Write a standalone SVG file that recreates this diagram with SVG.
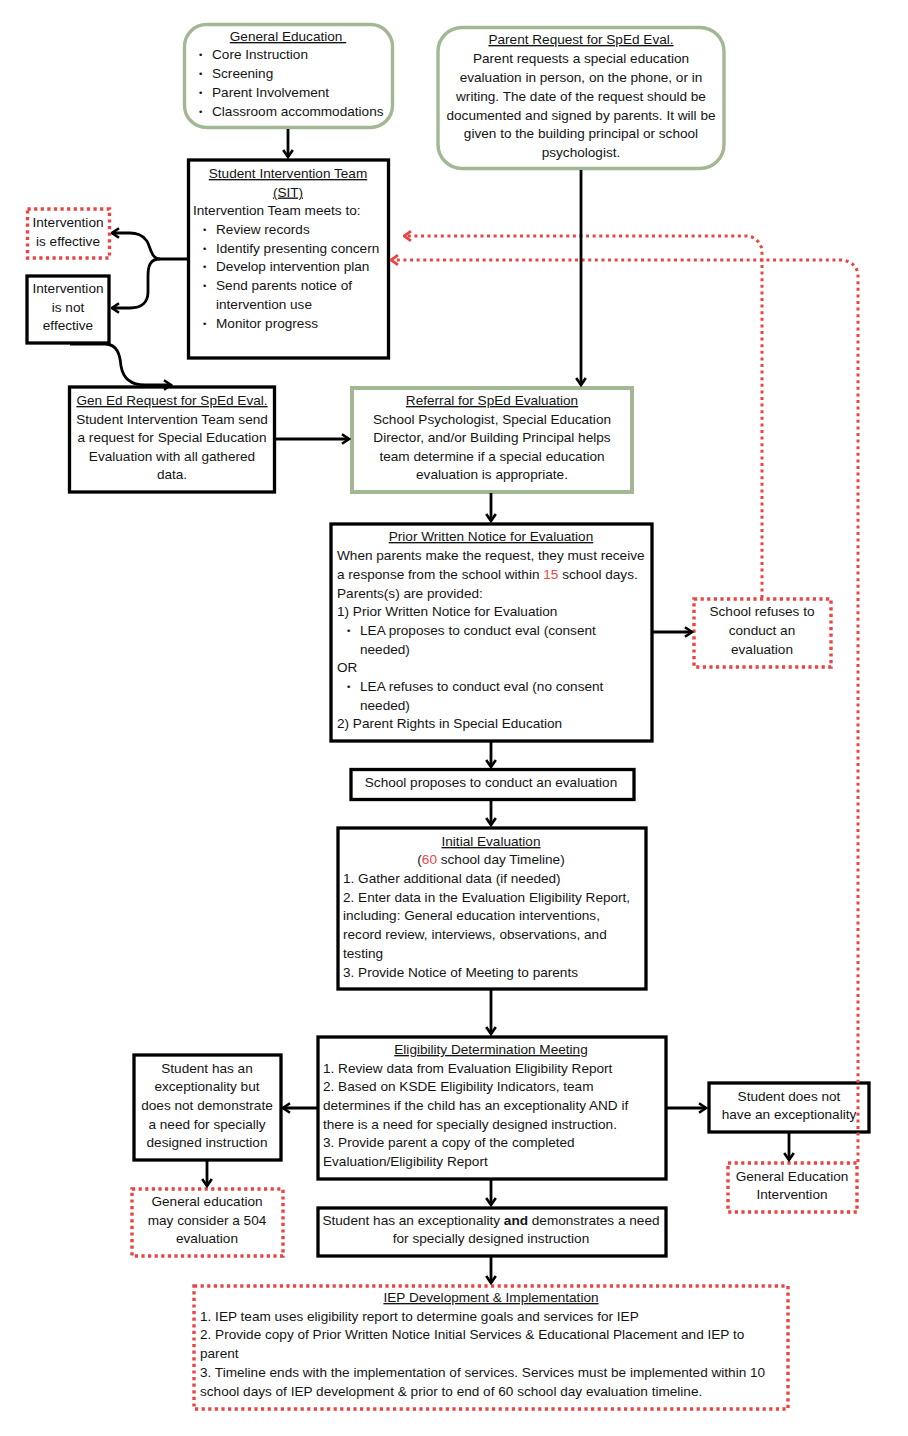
<svg xmlns="http://www.w3.org/2000/svg" width="908" height="1436" viewBox="0 0 908 1436">
<defs>
<style>
text{font-family:"Liberation Sans",Arial,sans-serif;font-size:13.6px;fill:#141414}
.c{text-anchor:middle}
.u{text-decoration:underline}
.b{font-size:9.5px}
.red{fill:#e84a4a}
.green{fill:#fff;stroke:#a2b793;stroke-width:3.4}
.black{fill:#fff;stroke:#000;stroke-width:3.3}
.dot{fill:#fff;stroke:#e84545;stroke-width:3.4;stroke-dasharray:3.2 3.4}
.ln{fill:none;stroke:#000;stroke-width:2.8}
.dl{fill:none;stroke:#e84545;stroke-width:3;stroke-dasharray:3 3.6}
</style>
<marker id="a" viewBox="0 0 10 12" refX="8.5" refY="6" markerWidth="10" markerHeight="12" markerUnits="userSpaceOnUse" orient="auto">
<path d="M1.5,1.2 L8.5,6 L1.5,10.8" fill="none" stroke="#000" stroke-width="2.6"/>
</marker>
<marker id="r" viewBox="0 0 10 12" refX="8.5" refY="6" markerWidth="10" markerHeight="12" markerUnits="userSpaceOnUse" orient="auto">
<path d="M1.5,1.2 L8.5,6 L1.5,10.8" fill="none" stroke="#e84545" stroke-width="2.8"/>
</marker>
</defs>
<rect width="908" height="1436" fill="#fff"/>

<g id="general-education">
<rect class="green" x="184.5" y="24.5" width="208" height="103" rx="22"/>
<text class="c u" x="288" y="41" xml:space="preserve">General Education </text>
<text class="b" x="199" y="58">•</text><text x="212" y="59">Core Instruction</text>
<text class="b" x="199" y="77">•</text><text x="212" y="78">Screening</text>
<text class="b" x="199" y="96">•</text><text x="212" y="97">Parent Involvement</text>
<text class="b" x="199" y="115">•</text><text x="212" y="116">Classroom accommodations</text>
</g>

<g id="parent-request">
<rect class="green" x="438" y="27.5" width="286" height="141" rx="24"/>
<text class="c u" x="581" y="44">Parent Request for SpEd Eval.</text>
<text class="c" x="581" y="63">Parent requests a special education</text>
<text class="c" x="581" y="82">evaluation in person, on the phone, or in</text>
<text class="c" x="581" y="101">writing. The date of the request should be</text>
<text class="c" x="581" y="119.5">documented and signed by parents. It will be</text>
<text class="c" x="581" y="138">given to the building principal or school</text>
<text class="c" x="581" y="156.5">psychologist.</text>
</g>

<g id="sit">
<rect class="black" x="188.5" y="160" width="200" height="198"/>
<text class="c u" x="288" y="178">Student Intervention Team</text>
<text class="c u" x="288" y="196.5">(SIT)</text>
<text x="193" y="215">Intervention Team meets to:</text>
<text class="b" x="203" y="233">•</text><text x="216" y="234">Review records</text>
<text class="b" x="203" y="251.5">•</text><text x="216" y="252.5">Identify presenting concern</text>
<text class="b" x="203" y="270">•</text><text x="216" y="271">Develop intervention plan</text>
<text class="b" x="203" y="289">•</text><text x="216" y="290">Send parents notice of</text>
<text x="216" y="309">intervention use</text>
<text class="b" x="203" y="326.5">•</text><text x="216" y="327.5">Monitor progress</text>
</g>

<g id="intervention-effective">
<rect class="dot" x="27.5" y="209" width="82" height="49"/>
<text class="c" x="68" y="227">Intervention</text>
<text class="c" x="68" y="246">is effective</text>
</g>

<g id="intervention-not-effective">
<rect class="black" x="27" y="276" width="82" height="67"/>
<text class="c" x="68" y="293">Intervention</text>
<text class="c" x="68" y="312">is not</text>
<text class="c" x="68" y="330">effective</text>
</g>

<g id="gen-ed-request">
<rect class="black" x="69.5" y="387" width="205" height="105"/>
<text class="c u" x="172" y="405">Gen Ed Request for SpEd Eval.</text>
<text class="c" x="172" y="423.5">Student Intervention Team send</text>
<text class="c" x="172" y="442">a request for Special Education</text>
<text class="c" x="172" y="461">Evaluation with all gathered</text>
<text class="c" x="172" y="479">data.</text>
</g>

<g id="referral">
<rect fill="#fff" stroke="#a2b793" stroke-width="4" x="352" y="388" width="280" height="104"/>
<text class="c u" x="492" y="405">Referral for SpEd Evaluation</text>
<text class="c" x="492" y="423.5">School Psychologist, Special Education</text>
<text class="c" x="492" y="442">Director, and/or Building Principal helps</text>
<text class="c" x="492" y="461">team determine if a special education</text>
<text class="c" x="492" y="479">evaluation is appropriate.</text>
</g>

<g id="prior-written-notice">
<rect class="black" x="331" y="524" width="321" height="217"/>
<text class="c u" x="491" y="541">Prior Written Notice for Evaluation</text>
<text x="337" y="560">When parents make the request, they must receive</text>
<text x="337" y="579">a response from the school within <tspan class="red">15</tspan> school days.</text>
<text x="337" y="598">Parents(s) are provided:</text>
<text x="337" y="616">1) Prior Written Notice for Evaluation</text>
<text class="b" x="347" y="634">•</text><text x="360" y="635">LEA proposes to conduct eval (consent</text>
<text x="360" y="654">needed)</text>
<text x="337" y="672">OR</text>
<text class="b" x="347" y="690">•</text><text x="360" y="691">LEA refuses to conduct eval (no consent</text>
<text x="360" y="710">needed)</text>
<text x="337" y="728">2) Parent Rights in Special Education</text>
</g>

<g id="school-refuses">
<rect class="dot" x="694" y="599" width="137" height="68"/>
<text class="c" x="762" y="616">School refuses to</text>
<text class="c" x="762" y="635">conduct an</text>
<text class="c" x="762" y="654">evaluation</text>
</g>

<g id="school-proposes">
<rect class="black" x="351" y="769.5" width="283" height="30"/>
<text class="c" x="491" y="787">School proposes to conduct an evaluation</text>
</g>

<g id="initial-evaluation">
<rect class="black" x="338" y="828" width="308" height="161"/>
<text class="c u" x="491" y="846">Initial Evaluation</text>
<text class="c" x="491" y="864">(<tspan class="red">60</tspan> school day Timeline)</text>
<text x="343" y="883">1. Gather additional data (if needed)</text>
<text x="343" y="902">2. Enter data in the Evaluation Eligibility Report,</text>
<text x="343" y="920">including: General education interventions,</text>
<text x="343" y="939">record review, interviews, observations, and</text>
<text x="343" y="958">testing</text>
<text x="343" y="977">3. Provide Notice of Meeting to parents</text>
</g>

<g id="eligibility-meeting">
<rect class="black" x="318" y="1037" width="348" height="142"/>
<text class="c u" x="491" y="1054">Eligibility Determination Meeting</text>
<text x="323" y="1073">1. Review data from Evaluation Eligibility Report</text>
<text x="323" y="1091">2. Based on KSDE Eligibility Indicators, team</text>
<text x="323" y="1110">determines if the child has an exceptionality AND if</text>
<text x="323" y="1129">there is a need for specially designed instruction.</text>
<text x="323" y="1147">3. Provide parent a copy of the completed</text>
<text x="323" y="1166">Evaluation/Eligibility Report</text>
</g>

<g id="exceptionality-no-need">
<rect class="black" x="134" y="1055" width="147" height="105"/>
<text class="c" x="207" y="1073">Student has an</text>
<text class="c" x="207" y="1091">exceptionality but</text>
<text class="c" x="207" y="1110">does not demonstrate</text>
<text class="c" x="207" y="1129">a need for specially</text>
<text class="c" x="207" y="1147">designed instruction</text>
</g>

<g id="consider-504">
<rect class="dot" x="132" y="1189" width="151" height="67"/>
<text class="c" x="207" y="1206">General education</text>
<text class="c" x="207" y="1225">may consider a 504</text>
<text class="c" x="207" y="1243">evaluation</text>
</g>

<g id="no-exceptionality">
<rect class="black" x="709" y="1083" width="160" height="49"/>
<text class="c" x="789" y="1101">Student does not</text>
<text class="c" x="789" y="1119">have an exceptionality</text>
</g>

<g id="gen-ed-intervention">
<rect class="dot" x="728" y="1163" width="129" height="49"/>
<text class="c" x="792" y="1181">General Education</text>
<text class="c" x="792" y="1199">Intervention</text>
</g>

<g id="exceptionality-and-need">
<rect class="black" x="318" y="1208" width="348" height="48"/>
<text class="c" x="491" y="1225">Student has an exceptionality <tspan font-weight="bold">and</tspan> demonstrates a need</text>
<text class="c" x="491" y="1243">for specially designed instruction</text>
</g>

<g id="iep">
<rect class="dot" x="194" y="1286" width="594" height="123"/>
<text class="c u" x="491" y="1302">IEP Development &amp; Implementation</text>
<text x="200" y="1321">1. IEP team uses eligibility report to determine goals and services for IEP</text>
<text x="200" y="1339">2. Provide copy of Prior Written Notice Initial Services &amp; Educational Placement and IEP to</text>
<text x="200" y="1358">parent</text>
<text x="200" y="1377">3. Timeline ends with the implementation of services. Services must be implemented within 10</text>
<text x="200" y="1396">school days of IEP development &amp; prior to end of 60 school day evaluation timeline.</text>
</g>

<g id="connectors">
<path class="dl" d="M762,598 V252 C762,243 755,236 746,236 H404" marker-end="url(#r)"/>
<path class="dl" d="M858,1162 V276 C858,266 850,260 840,260 H391" marker-end="url(#r)"/>
<path class="ln" d="M288,129 V157" marker-end="url(#a)"/>
<path class="ln" d="M581,170 V385" marker-end="url(#a)"/>
<path class="ln" d="M187,259 H160 C150,259 150,243 146,240 C142,235 138,233 130,233 H112" marker-end="url(#a)"/>
<path class="ln" d="M160,259 C150,259 148,266 148,276 V292 C148,302 142,308 130,308 H112" marker-end="url(#a)"/>
<path class="ln" d="M70,344 H105 C118,344 120,356 121,366 C123,378 130,385 145,385 H171" marker-end="url(#a)"/>
<path class="ln" d="M276,439 H349" marker-end="url(#a)"/>
<path class="ln" d="M491,493 V521" marker-end="url(#a)"/>
<path class="ln" d="M653,632 H692" marker-end="url(#a)"/>
<path class="ln" d="M491,742 V767" marker-end="url(#a)"/>
<path class="ln" d="M491,801 V825" marker-end="url(#a)"/>
<path class="ln" d="M491,990 V1034" marker-end="url(#a)"/>
<path class="ln" d="M317,1108 H283" marker-end="url(#a)"/>
<path class="ln" d="M207,1161 V1186" marker-end="url(#a)"/>
<path class="ln" d="M666,1108 H706" marker-end="url(#a)"/>
<path class="ln" d="M789,1133 V1160" marker-end="url(#a)"/>
<path class="ln" d="M491,1180 V1205" marker-end="url(#a)"/>
<path class="ln" d="M491,1257 V1283" marker-end="url(#a)"/>
</g>
</svg>
